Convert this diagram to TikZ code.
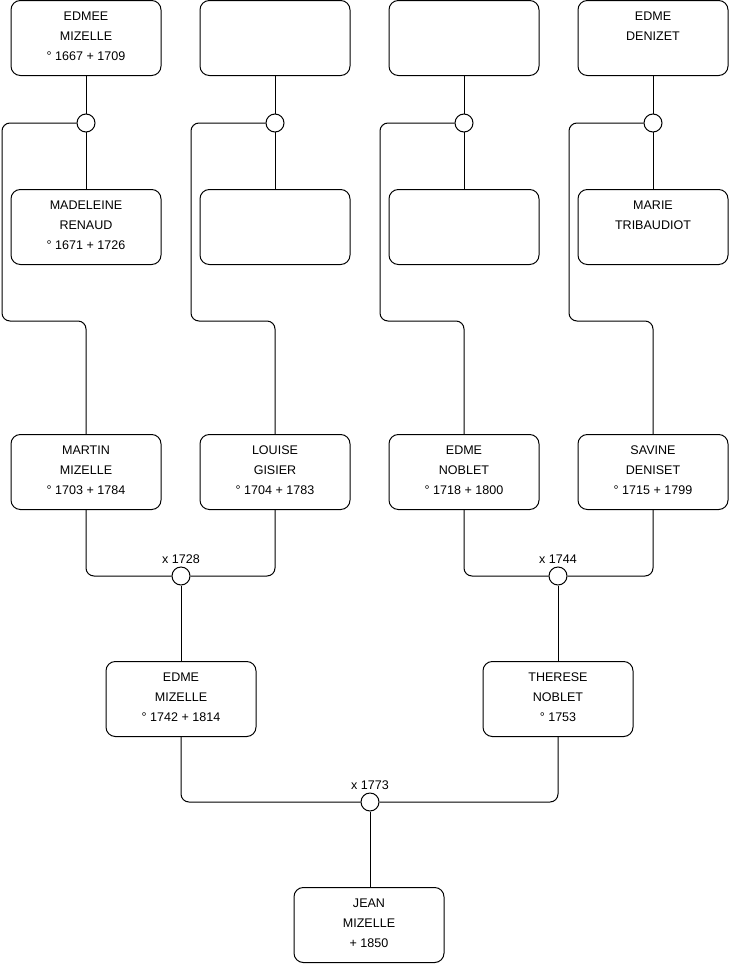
\documentclass[tikz,border=0pt]{standalone}
\usepackage{fontspec}
\setmainfont{Liberation Sans}
\begin{document}
\begin{tikzpicture}[x=0.75pt,y=-0.75pt,
  pbox/.style={draw,line width=0.75pt,rounded corners=7pt,minimum width=112.5pt,minimum height=56.25pt,inner sep=0pt},
  ptext/.style={anchor=north,align=center,inner sep=0pt,font=\fontsize{9.4}{15}\selectfont},
  knot/.style={draw,circle,line width=0.75pt,minimum size=13.5pt,inner sep=0pt,fill=white},
  wlabel/.style={font=\fontsize{9.4}{11}\selectfont,inner sep=0pt,anchor=south},
  link/.style={line width=0.75pt,rounded corners=6pt}]
\useasboundingbox (0,0) rectangle (740,975);
% boxes
\foreach \n/\x/\y in {a1/86/38, a2/275/38, a3/464/38, a4/653/38,
  s1/86/227, s2/275/227, s3/464/227, s4/653/227,
  m1/86/472, m2/275/472, m3/464/472, m4/653/472,
  g1/181/699, g2/558/699, j/369/925}
  \node[pbox] (\n) at (\x,\y) {};
% texts
\node[ptext] (ta1) at ([yshift=-8.8pt]a1.north) {EDMEE\\MIZELLE\\° 1667 + 1709};
\node[ptext] (ta4) at ([yshift=-8.8pt]a4.north) {EDME\\DENIZET};
\node[ptext] (ts1) at ([yshift=-8.8pt]s1.north) {MADELEINE\\RENAUD\\° 1671 + 1726};
\node[ptext] (ts4) at ([yshift=-8.8pt]s4.north) {MARIE\\TRIBAUDIOT};
\node[ptext] (tm1) at ([yshift=-8.8pt]m1.north) {MARTIN\\MIZELLE\\° 1703 + 1784};
\node[ptext] (tm2) at ([yshift=-8.8pt]m2.north) {LOUISE\\GISIER\\° 1704 + 1783};
\node[ptext] (tm3) at ([yshift=-8.8pt]m3.north) {EDME\\NOBLET\\° 1718 + 1800};
\node[ptext] (tm4) at ([yshift=-8.8pt]m4.north) {SAVINE\\DENISET\\° 1715 + 1799};
\node[ptext] (tg1) at ([yshift=-8.8pt]g1.north) {EDME\\MIZELLE\\° 1742 + 1814};
\node[ptext] (tg2) at ([yshift=-8.8pt]g2.north) {THERESE\\NOBLET\\° 1753};
\node[ptext] (tj) at ([yshift=-8.8pt]j.north) {JEAN\\MIZELLE\\+ 1850};
% upper knots and links
\foreach \i/\x/\k in {1/86/2, 2/275/191, 3/464/380, 4/653/569}{
  \coordinate (k\i) at (\k,321);
  \draw[link] (a\i.south) -- (s\i.north);
  \node[knot] (c\i) at (\x,123) {};
  \draw[link] (c\i.west) -| (k\i) -| (m\i.north);
}
% marriages
\node[knot] (w1) at (181,576) {};
\node[knot] (w2) at (558,576) {};
\node[knot] (w3) at (370,802) {};
\node[wlabel] (l1) at ([yshift=2pt]w1.north) {x 1728};
\node[wlabel] (l2) at ([yshift=2pt]w2.north) {x 1744};
\node[wlabel] (l3) at ([yshift=2pt]w3.north) {x 1773};
\draw[link] (m1.south) |- (w1.west);
\draw[link] (m2.south) |- (w1.east);
\draw[link] (m3.south) |- (w2.west);
\draw[link] (m4.south) |- (w2.east);
\draw[link] (w1.south) -- (g1.north);
\draw[link] (w2.south) -- (g2.north);
\draw[link] (g1.south) |- (w3.west);
\draw[link] (g2.south) |- (w3.east);
\draw[link] (w3.south) -- (w3.south |- j.north);
\end{tikzpicture}
\end{document}
